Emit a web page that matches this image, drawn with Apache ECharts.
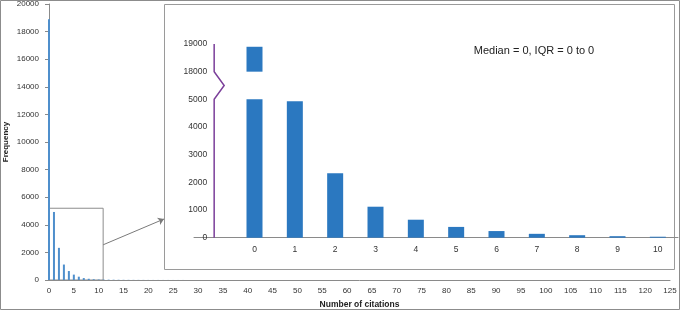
<!DOCTYPE html>
<html>
<head>
<meta charset="utf-8">
<script src="https://cdn.jsdelivr.net/npm/echarts@6/dist/echarts.min.js"></script>
<style>
	* { margin: 0; padding: 0; }
	body { background: #fff; }
	#chart { width: 680px; height: 310px; }
</style>
</head>
<body>
<div id="chart"></div>
<script>
	// main histogram: number of citations -> frequency
	var citations = [0, 1, 2, 3, 4, 5, 6, 7, 8, 9, 10, 11, 12, 13, 14, 15, 16, 17, 18, 19, 20,
		21, 22, 23, 24, 25, 26, 27, 28, 29, 30, 31, 32, 33, 34, 35, 37, 40, 41];
	var frequency = [18900, 4930, 2330, 1120, 650, 390, 240, 140, 90, 55, 35, 30, 24, 20, 16, 13, 11, 9, 8, 7, 6,
		5, 5, 4, 4, 3, 3, 3, 2, 2, 2, 1, 1, 1, 1, 1, 1, 1, 1];

	// inset (zoom on 0..10), first category is blank
	var insetCats = ['', '0', '1', '2', '3', '4', '5', '6', '7', '8', '9', '10'];
	var insetFreq = [null, 18900, 4930, 2330, 1120, 650, 390, 240, 140, 90, 55, 35];

	// broken axis: 5000..18000 squeezed into one step
	var breakLo = 5000;
	var breakHi = 18000;
	var breakStep = 1000;

	var insetLeft = 194, insetRight = 2;
	var catW = (680 - insetLeft - insetRight) / insetCats.length;

	var lower = insetFreq.map(function(v) { return v == null ? '-' : Math.min(v, breakLo); });
	var gap = insetFreq.map(function(v) { return v != null && v > breakHi ? breakStep : '-'; });
	var upper = insetFreq.map(function(v) { return v != null && v > breakHi ? v - breakHi : '-'; });

	var mainData = citations.map(function(c, i) { return [c, frequency[i]]; });

	var font = 'Liberation Sans, Arial, sans-serif';
	var axisGray = '#8a8a8a';
	var barMain = '#4f8fcc';
	var barInset = '#2b78c0';

	var chart = echarts.init(document.getElementById('chart'));
	var staticGraphics = [{
			type: 'rect', id: 'outer', silent: true,
			shape: { x: 0.5, y: 0.5, width: 679, height: 309 },
			style: { fill: 'none', stroke: '#8c8c8c', lineWidth: 1 }
		},
		{
			type: 'rect', id: 'panel', silent: true,
			shape: { x: 164.5, y: 4.5, width: 510, height: 265 },
			style: { fill: 'none', stroke: '#9a9a9a', lineWidth: 1 }
		},
		{
			type: 'text', id: 'median', silent: true,
			x: 534, y: 51,
			style: {
				text: 'Median = 0, IQR = 0 to 0',
				fill: '#222', font: '11px ' + font,
				align: 'center', verticalAlign: 'middle'
			}
		}
	];

	chart.setOption({
		animation: false,
		grid: [{
				left: 49, right: 10, top: 4, bottom: 30, outerBoundsMode: 'none'
			},
			{
				left: insetLeft, right: insetRight, top: 44, bottom: 72.3, outerBoundsMode: 'none'
			}
		],
		xAxis: [{
				type: 'value', gridIndex: 0,
				min: 0, max: 125, interval: 5,
				name: 'Number of citations', nameLocation: 'middle', nameGap: 20,
				nameTextStyle: { fontFamily: font, fontSize: 8.5, fontWeight: 'bold', color: '#222' },
				axisLine: { lineStyle: { color: axisGray } },
				axisTick: { show: false },
				splitLine: { show: false },
				axisLabel: { fontFamily: font, fontSize: 8, color: '#333', margin: 7 }
			},
			{
				type: 'category', gridIndex: 1,
				data: insetCats,
				axisLine: { lineStyle: { color: axisGray } },
				axisTick: { length: 3, lineStyle: { color: axisGray },
					interval: function(i) { return i > 0; } },
				axisLabel: { fontFamily: font, fontSize: 8.5, color: '#333', margin: 7 }
			}
		],
		yAxis: [{
				type: 'value', gridIndex: 0,
				min: 0, max: 20000, interval: 2000,
				name: 'Frequency', nameLocation: 'middle', nameGap: 39, nameMoveOverlap: false,
				nameTextStyle: { fontFamily: font, fontSize: 8, fontWeight: 'bold', color: '#222' },
				axisLine: { show: true, lineStyle: { color: axisGray } },
				axisTick: { show: true, length: 4, lineStyle: { color: axisGray } },
				splitLine: { show: false },
				axisLabel: { fontFamily: font, fontSize: 8, color: '#333', margin: 10,
					formatter: function(v) { return String(v); } }
			},
			{
				type: 'value', gridIndex: 1,
				min: 0, max: breakLo + 2 * breakStep, interval: breakStep,
				offset: -catW / 2,
				axisLine: { show: false },
				axisTick: { show: false },
				splitLine: { show: false },
				axisLabel: {
					fontFamily: font, fontSize: 8.5, color: '#333', margin: 7,
					formatter: function(v) {
						return String(v <= breakLo ? v : v - breakLo - breakStep + breakHi);
					}
				}
			}
		],
		series: [{
				type: 'bar', xAxisIndex: 0, yAxisIndex: 0,
				data: mainData,
				barWidth: 2,
				itemStyle: { color: barMain },
				markArea: {
					silent: true,
					itemStyle: { color: 'rgba(0,0,0,0)', borderColor: '#8c8c8c', borderWidth: 1 },
					data: [[{ coord: [0, 5200] }, { coord: [10.9, 0] }]]
				},
				markLine: {
					silent: true,
					symbolSize: 6,
					label: { show: false },
					lineStyle: { color: '#7a7a7a', width: 1, type: 'solid' },
					data: [[{ coord: [10.9, 2550], symbol: 'none' }, { x: 164, y: 219, symbol: 'arrow' }]]
				}
			},
			{
				type: 'bar', xAxisIndex: 1, yAxisIndex: 1, stack: 'z',
				data: lower, barWidth: 16,
				itemStyle: { color: barInset }
			},
			{
				type: 'bar', xAxisIndex: 1, yAxisIndex: 1, stack: 'z',
				data: gap, barWidth: 16,
				itemStyle: { color: 'rgba(0,0,0,0)' }
			},
			{
				type: 'bar', xAxisIndex: 1, yAxisIndex: 1, stack: 'z',
				data: upper, barWidth: 16,
				itemStyle: { color: barInset }
			}
		],
		graphic: staticGraphics
	});

	// broken y axis line of the inset, with the zigzag
	var conv = function(v) { return chart.convertToPixel({ xAxisIndex: 1, yAxisIndex: 1 }, [0, v]); };
	var pTop = conv(breakLo + 2 * breakStep);
	var pHi = conv(breakLo + breakStep);
	var pLo = conv(breakLo);
	var p0 = conv(0);
	chart.setOption({
		graphic: staticGraphics.concat([{
			type: 'polyline', id: 'brokenAxis', silent: true, z: 10,
			shape: {
				points: [pTop, pHi, [pHi[0] + 10, (pHi[1] + pLo[1]) / 2], pLo, p0]
			},
			style: { stroke: '#7b3f9a', lineWidth: 1.5, fill: 'none' }
		}])
	});
</script>
</body>
</html>
